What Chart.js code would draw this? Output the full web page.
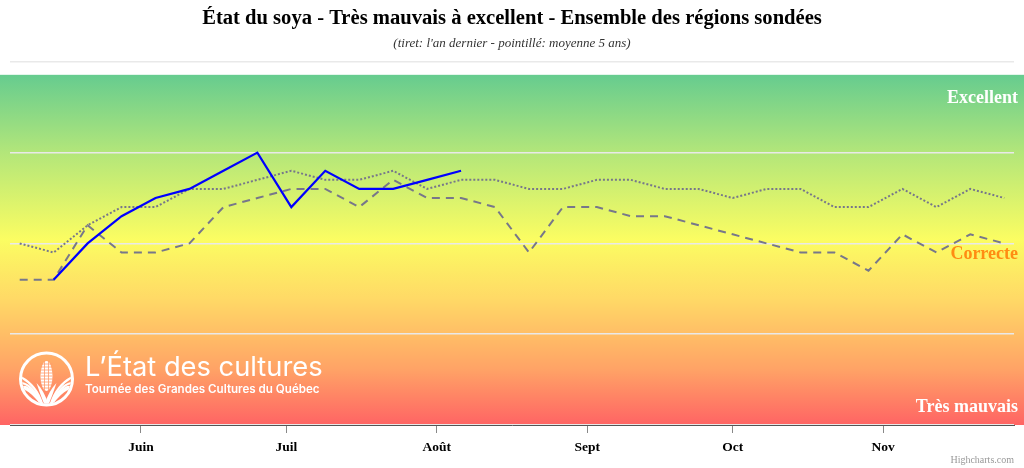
<!DOCTYPE html>
<html>
<head>
<meta charset="utf-8">
<script src="https://cdn.jsdelivr.net/npm/chart.js@4.4.0/dist/chart.umd.min.js"></script>
<style>
  html, body { margin: 0; padding: 0; background: #fff; }
  #c { display: block; }
</style>
</head>
<body>
<canvas id="c" width="1024" height="468"></canvas>
<script>
// --- Data (weekly survey index, 1 = très mauvais ... 5 = excellent) ---
const weekDates = ['05-07','05-14','05-21','05-28','06-04','06-11','06-18','06-25',
                   '07-02','07-09','07-16','07-23','07-30','08-06','08-13','08-20',
                   '08-27','09-03','09-10','09-17','09-24','10-01','10-08','10-15',
                   '10-22','10-29','11-05','11-12','11-19','11-26'];
const thisYear = [null, 2.6, 3.0, 3.3, 3.5, 3.6, 3.8, 4.0, 3.4, 3.8, 3.6, 3.6, 3.7, 3.8];
const lastYear = [2.6, 2.6, 3.2, 2.9, 2.9, 3.0, 3.4, 3.5, 3.6, 3.6, 3.4, 3.7, 3.5, 3.5, 3.4,
                  2.9, 3.4, 3.4, 3.3, 3.3, 3.2, 3.1, 3.0, 2.9, 2.9, 2.7, 3.1, 2.9, 3.1, 3.0];
const avg5yr   = [3.0, 2.9, 3.2, 3.4, 3.4, 3.6, 3.6, 3.7, 3.8, 3.7, 3.7, 3.8, 3.6, 3.7, 3.7,
                  3.6, 3.6, 3.7, 3.7, 3.6, 3.6, 3.5, 3.6, 3.6, 3.4, 3.4, 3.6, 3.4, 3.6, 3.5];
const monthStarts = ['06-01','07-01','08-01','09-01','10-01','11-01'];
const monthLabels = ['Juin','Juil','Août','Sept','Oct','Nov'];
const bandLabels = ['Excellent', 'Correcte', 'Très mauvais'];
const bandLabelValues = [4.6, 2.88, 1.19];
const bandLabelColors = ['#ffffff', '#ff8c12', '#ffffff'];

// day of year from "MM-DD"
function doy(s) {
    const [m, d] = s.split('-').map(Number);
    return (Date.UTC(2023, m - 1, d) - Date.UTC(2023, 0, 0)) / 86400000;
}
const xs = weekDates.map(doy);
const toPoints = arr => arr.map((v, i) => ({ x: xs[i], y: v }));
const tickDays = monthStarts.map(doy);

const SERIF = "'Liberation Serif', 'Times New Roman', serif";

// --- Background gradient, band labels, logo, credit ---
const decor = {
    id: 'decor',
    beforeDraw(chart) {
        const { ctx, chartArea: a, width } = chart;
        const top = a.top + 13;
        const g = ctx.createLinearGradient(0, top, 0, a.bottom);
        g.addColorStop(0, '#66cc8f');
        g.addColorStop(0.22, '#b2e67a');
        g.addColorStop(0.47, '#fbfd62');
        g.addColorStop(0.64, '#ffd966');
        g.addColorStop(0.84, '#ffa366');
        g.addColorStop(1, '#ff6464');
        ctx.save();
        ctx.fillStyle = g;
        ctx.fillRect(0, top, width, a.bottom - top);
        ctx.restore();
    },
    beforeDatasetsDraw(chart) {
        const { ctx, scales: { y } } = chart;
        ctx.save();
        ctx.font = 'bold 18px ' + SERIF;
        ctx.textAlign = 'right';
        ctx.textBaseline = 'middle';
        bandLabels.forEach((t, i) => {
            ctx.fillStyle = bandLabelColors[i];
            ctx.fillText(t, 1018, y.getPixelForValue(bandLabelValues[i]));
        });

        // logo
        const cx = 46.5, cy = 379, r = 26;
        ctx.strokeStyle = '#fff';
        ctx.fillStyle = '#fff';
        ctx.lineWidth = 3;
        ctx.beginPath(); ctx.arc(cx, cy, r, 0, Math.PI * 2); ctx.stroke();
        ctx.save();
        ctx.beginPath(); ctx.arc(cx, cy, r - 1.5, 0, Math.PI * 2); ctx.clip();
        // field rows
        ctx.lineWidth = 2.2;
        for (let k = 0; k < 4; k++) {
            ctx.beginPath();
            ctx.moveTo(cx - 4, cy + 26);
            ctx.quadraticCurveTo(cx - 10 - k * 5, cy + 6 - k * 2, cx - 26, cy - 2 + k * 6);
            ctx.stroke();
            ctx.beginPath();
            ctx.moveTo(cx + 4, cy + 26);
            ctx.quadraticCurveTo(cx + 10 + k * 5, cy + 6 - k * 2, cx + 26, cy - 2 + k * 6);
            ctx.stroke();
        }
        // cob
        ctx.beginPath(); ctx.ellipse(cx, cy - 3, 6, 15, 0, 0, Math.PI * 2); ctx.fill();
        ctx.strokeStyle = '#ff9a6a';
        ctx.lineWidth = 0.8;
        for (let k = -12; k <= 12; k += 3) {
            ctx.beginPath(); ctx.moveTo(cx - 6, cy - 3 + k); ctx.lineTo(cx + 6, cy - 3 + k); ctx.stroke();
        }
        ctx.beginPath(); ctx.moveTo(cx - 2, cy - 18); ctx.lineTo(cx - 2, cy + 12); ctx.stroke();
        ctx.beginPath(); ctx.moveTo(cx + 2, cy - 18); ctx.lineTo(cx + 2, cy + 12); ctx.stroke();
        // husk leaves
        ctx.fillStyle = '#fff';
        ctx.beginPath();
        ctx.moveTo(cx - 10, cy + 4); ctx.quadraticCurveTo(cx - 6, cy + 16, cx - 2, cy + 26);
        ctx.lineTo(cx + 2, cy + 26); ctx.quadraticCurveTo(cx - 2, cy + 12, cx - 10, cy + 4); ctx.fill();
        ctx.beginPath();
        ctx.moveTo(cx + 10, cy + 4); ctx.quadraticCurveTo(cx + 6, cy + 16, cx + 2, cy + 26);
        ctx.lineTo(cx - 2, cy + 26); ctx.quadraticCurveTo(cx + 2, cy + 12, cx + 10, cy + 4); ctx.fill();
        ctx.restore();

        // logo text
        ctx.fillStyle = '#fff';
        ctx.textAlign = 'left';
        ctx.textBaseline = 'alphabetic';
        const t1 = 'L’État des cultures';
        ctx.font = '400 28px Inter, "Open Sans", sans-serif';
        const s1 = 28 * 238 / ctx.measureText(t1).width;
        ctx.font = '400 ' + s1.toFixed(1) + 'px Inter, "Open Sans", sans-serif';
        ctx.fillText(t1, 85, 376);
        const t2 = 'Tournée des Grandes Cultures du Québec';
        ctx.font = '600 12px Inter, "Open Sans", sans-serif';
        const s2 = 12 * 235 / ctx.measureText(t2).width;
        ctx.font = '600 ' + s2.toFixed(1) + 'px Inter, "Open Sans", sans-serif';
        ctx.fillText(t2, 85, 393);
        ctx.restore();
    },
    afterDraw(chart) {
        const { ctx } = chart;
        ctx.save();
        ctx.font = '10px ' + SERIF;
        ctx.fillStyle = '#999';
        ctx.textAlign = 'right';
        ctx.textBaseline = 'middle';
        ctx.fillText('Highcharts.com', 1014, 460);
        ctx.restore();
    }
};

new Chart(document.getElementById('c'), {
    type: 'line',
    data: {
        datasets: [
            {
                label: 'Cette année',
                data: toPoints(thisYear),
                borderColor: '#0000ff',
                borderWidth: 2.2,
                pointRadius: 0,
                tension: 0,
                spanGaps: false,
                order: 0
            },
            {
                label: "L'an dernier",
                data: toPoints(lastYear),
                borderColor: '#77778a',
                borderWidth: 2,
                borderDash: [8, 6],
                pointRadius: 0,
                tension: 0,
                order: 1
            },
            {
                label: 'Moyenne 5 ans',
                data: toPoints(avg5yr),
                borderColor: '#77778a',
                borderWidth: 2,
                borderDash: [2, 2],
                pointRadius: 0,
                tension: 0,
                order: 2
            }
        ]
    },
    options: {
        responsive: false,
        devicePixelRatio: 1,
        animation: false,
        events: [],
        layout: { padding: { left: 10, right: 10, top: 0, bottom: 0 } },
        scales: {
            x: {
                type: 'linear',
                min: 125,
                max: 332,
                afterBuildTicks: s => { s.ticks = tickDays.map(v => ({ value: v })); },
                afterFit: s => { s.height = 43; },
                ticks: {
                    callback: v => monthLabels[tickDays.indexOf(v)],
                    font: { family: SERIF, size: 13.5, weight: 'bold' },
                    color: '#000',
                    padding: 6,
                    maxRotation: 0,
                    autoSkip: false
                },
                grid: { display: true, drawOnChartArea: false, drawTicks: true, tickLength: 8, color: '#888', lineWidth: 1 },
                border: { display: true, color: '#555', width: 1 }
            },
            y: {
                min: 1,
                max: 5,
                afterFit: s => { s.width = 0; },
                ticks: { stepSize: 1, display: false },
                grid: { color: '#e9e9e9', lineWidth: 1.5, drawTicks: false },
                border: { display: false }
            }
        },
        plugins: {
            legend: { display: false },
            tooltip: { enabled: false },
            title: {
                display: true,
                text: 'État du soya - Très mauvais à excellent - Ensemble des régions sondées',
                font: { family: SERIF, size: 20.6, weight: 'bold' },
                color: '#000',
                padding: { top: 6, bottom: 3.5 }
            },
            subtitle: {
                display: true,
                text: "(tiret: l'an dernier - pointillé: moyenne 5 ans)",
                font: { family: SERIF, size: 13, style: 'italic' },
                color: '#333',
                padding: { top: 2, bottom: 10 }
            }
        }
    },
    plugins: [decor]
});
</script>
</body>
</html>
